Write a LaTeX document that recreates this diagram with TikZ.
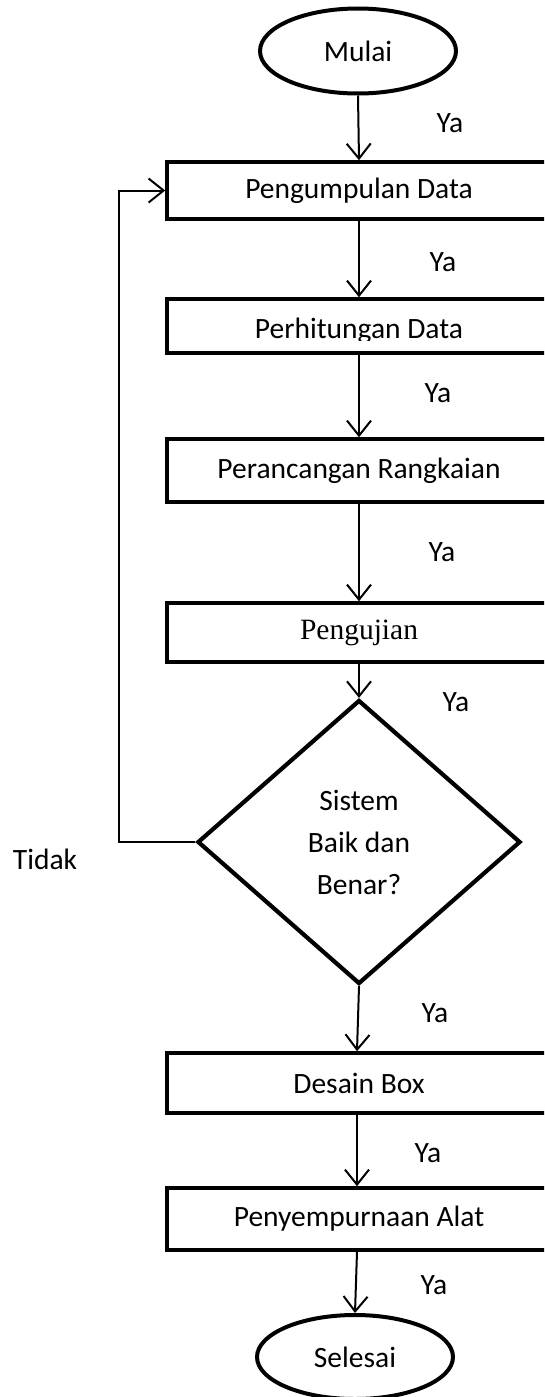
\documentclass[tikz,border=0pt]{standalone}
\usepackage{fontspec}
\setmainfont{Carlito}
\newfontfamily\serifface{Liberation Serif}
\usetikzlibrary{shapes.geometric,arrows.meta}
\begin{document}
\begin{tikzpicture}[x=1pt,y=-1pt,
  lbl/.style={font=\fontsize{29.5}{34}\selectfont, inner sep=0pt},
  stepbox/.style={draw, line width=3.6pt, minimum width=384pt, inner sep=0pt, font=\fontsize{29.5}{34}\selectfont},
  term/.style={draw, ellipse, line width=4pt, minimum width=196pt, minimum height=85pt, inner sep=0pt, font=\fontsize{29.5}{34}\selectfont},
  decision/.style={draw, diamond, line width=4.2pt, minimum width=323pt, minimum height=284pt, inner sep=0pt, align=center, font=\fontsize{29.5}{42}\selectfont},
  arr/.style={line width=2pt, -{Straight Barb[length=15pt,width=24pt,line width=2pt]}}]
\useasboundingbox (0,0) rectangle (544,1397);
\fill[white] (0,0) rectangle (544,1397);
\clip (0,0) rectangle (544,1397);

\node[term] (mulai) at (358,51) {Mulai};
\node[stepbox, minimum height=57pt] (b1) at (359,190.5) {Pengumpulan Data};
\node[stepbox, minimum height=54pt] (b2) at (359,326) {};
\begin{scope}
  \clip (160,300) rectangle (560,340);
  \node[lbl, anchor=base] (b2t) at (359,338) {Perhitungan Data};
\end{scope}
\node[stepbox, minimum height=63pt] (b3) at (359,470.5) {Perancangan Rangkaian};
\node[stepbox, minimum height=59pt, font=\serifface\fontsize{29.5}{34}\selectfont] (b4) at (359,632.5) {Pengujian};
\node[decision] (d) at (359,842) {Sistem\\Baik dan\\Benar?};
\node[stepbox, minimum height=60pt] (b5) at (359,1083) {Desain Box};
\node[stepbox, minimum height=62pt] (b6) at (359,1219) {Penyempurnaan Alat};
\node[term, minimum height=84pt] (selesai) at (355,1357) {Selesai};

\node[lbl] (ya1) at (450,123) {Ya};
\node[lbl] (ya2) at (443,262) {Ya};
\node[lbl] (ya3) at (438,393) {Ya};
\node[lbl] (ya4) at (442,552) {Ya};
\node[lbl] (ya5) at (456,702) {Ya};
\node[lbl] (ya6) at (435,1013) {Ya};
\node[lbl] (ya7) at (428,1153) {Ya};
\node[lbl] (ya8) at (434,1285) {Ya};
\node[lbl] (tidak) at (45,859) {Tidak};

\coordinate (loop) at (119,842);

\draw[arr] (mulai.south) -- (b1.north);
\draw[arr] (b1.south) -- (b2.north);
\draw[arr] (b2.south) -- (b3.north);
\draw[arr] (b3.south) -- (b4.north);
\draw[arr] (b4.south) -- (d.north);
\draw[arr] (d.south) -- ([xshift=-2pt]b5.north);
\draw[arr] ([xshift=-2pt]b5.south) -- ([xshift=-2pt]b6.north);
\draw[arr] ([xshift=-2pt]b6.south) -- (selesai.north);
\draw[arr] (d.west) -- (loop) |- (b1.west);
\end{tikzpicture}
\end{document}
